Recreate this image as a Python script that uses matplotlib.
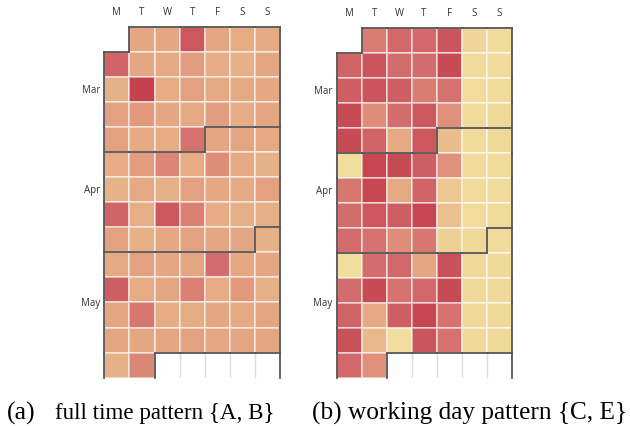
import numpy as np
import matplotlib
matplotlib.use("Agg")
import matplotlib.pyplot as plt
from matplotlib.colors import LinearSegmentedColormap
import datetime as dt

# ---------------- data ----------------
day_labels = ["M", "T", "W", "T", "F", "S", "S"]
month_names = ["Mar", "Apr", "May"]
start_date = dt.date(2016, 3, 1)
end_date = dt.date(2016, 5, 31)

nan = np.nan
# rows = calendar weeks (Mon..Sun), NaN = not in date range
full_time = [
    [nan, 0.47, 0.47, 0.88, 0.47, 0.43, 0.45],
    [0.82, 0.47, 0.45, 0.53, 0.44, 0.40, 0.48],
    [0.40, 1.00, 0.44, 0.50, 0.45, 0.45, 0.46],
    [0.50, 0.55, 0.47, 0.45, 0.53, 0.44, 0.48],
    [0.50, 0.45, 0.44, 0.75, 0.47, 0.48, 0.45],
    [0.43, 0.53, 0.65, 0.44, 0.62, 0.45, 0.40],
    [0.38, 0.45, 0.40, 0.50, 0.46, 0.45, 0.50],
    [0.82, 0.42, 0.88, 0.68, 0.44, 0.42, 0.42],
    [0.50, 0.40, 0.46, 0.50, 0.47, 0.48, 0.40],
    [0.45, 0.50, 0.47, 0.48, 0.78, 0.46, 0.47],
    [0.85, 0.43, 0.48, 0.68, 0.44, 0.55, 0.40],
    [0.47, 0.72, 0.44, 0.44, 0.47, 0.45, 0.48],
    [0.48, 0.47, 0.47, 0.50, 0.46, 0.48, 0.48],
    [0.40, 0.65, nan, nan, nan, nan, nan],
]
working_day = [
    [nan, 0.70, 0.80, 0.80, 0.90, 0.12, 0.05],
    [0.82, 0.90, 0.78, 0.78, 0.95, 0.05, 0.05],
    [0.85, 0.90, 0.85, 0.70, 0.75, 0.03, 0.05],
    [0.95, 0.62, 0.78, 0.88, 0.60, 0.05, 0.08],
    [0.95, 0.82, 0.45, 0.88, 0.32, 0.05, 0.10],
    [0.00, 0.97, 0.95, 0.85, 0.60, 0.05, 0.05],
    [0.72, 0.97, 0.45, 0.82, 0.25, 0.05, 0.05],
    [0.78, 0.88, 0.85, 0.97, 0.30, 0.03, 0.05],
    [0.78, 0.75, 0.62, 0.72, 0.18, 0.10, 0.05],
    [0.00, 0.78, 0.80, 0.48, 0.92, 0.10, 0.10],
    [0.78, 0.95, 0.75, 0.80, 0.95, 0.08, 0.10],
    [0.82, 0.45, 0.85, 0.97, 0.75, 0.08, 0.10],
    [0.92, 0.35, 0.02, 0.90, 0.75, 0.10, 0.10],
    [0.80, 0.60, nan, nan, nan, nan, nan],
]
captions = ["(a)", "full time pattern {A, B}", "(b) working day pattern {C, E}"]

# ---------------- style ----------------
cmap = LinearSegmentedColormap.from_list("cal", [
    (0.00, "#F1DE9E"),
    (0.20, "#EECF96"),
    (0.30, "#EAC08E"),
    (0.45, "#E5AA84"),
    (0.60, "#E0907A"),
    (0.80, "#D2686A"),
    (1.00, "#C4424E"),
])

# calendar layout from dates
first_monday = start_date - dt.timedelta(days=start_date.weekday())
n_rows = ((end_date - first_monday).days // 7) + 1
month_grid = [[None] * 7 for _ in range(n_rows)]
d = start_date
while d <= end_date:
    r = (d - first_monday).days // 7
    month_grid[r][d.weekday()] = d.month
    d += dt.timedelta(days=1)

month_rows = {}
for r in range(n_rows):
    for c in range(7):
        m = month_grid[r][c]
        if m is not None:
            month_rows.setdefault(m, []).append(r)

W, H = 630, 427
fig = plt.figure(figsize=(W / 100, H / 100), dpi=100)

label_font = ["Open Sans", "DejaVu Sans"]
axes_px = [(104.3, 27.7, 175.7, 351.0), (336.7, 29.3, 174.8, 349.2)]


def draw(ax, values):
    vals = np.ma.masked_invalid(np.array(values, dtype=float))
    ax.pcolormesh(np.arange(8), np.arange(n_rows + 1), vals, cmap=cmap,
                  vmin=0, vmax=1, edgecolors=(1, 1, 1, 0.5), linewidth=1.3)
    ax.set_xlim(0, 7)
    ax.set_ylim(n_rows, 0)
    ax.axis("off")
    # light lines for empty trailing cells
    for r in range(n_rows):
        for c in range(7):
            if month_grid[r][c] is None and r == n_rows - 1 and c > 0 and month_grid[r][c - 1] is None:
                ax.plot([c, c], [r, r + 1], color="#dcdcdc", lw=1.0, zorder=2)

    def lab(r, c):
        if r < 0 or c < 0 or c >= 7:
            return "OUT"
        if r >= n_rows:
            return "OPEN"
        return month_grid[r][c]

    segs = []
    for r in range(-1, n_rows):
        for c in range(-1, 7):
            a = lab(r, c)
            # right edge
            if r >= 0:
                b = lab(r, c + 1)
                if a != b and not ({a, b} <= {None, "OUT"}):
                    segs.append(((c + 1, c + 1), (r, r + 1)))
            # bottom edge
            if c >= 0:
                b = lab(r + 1, c)
                if b == "OPEN":
                    continue
                if a != b and not ({a, b} <= {None, "OUT"}):
                    segs.append(((c, c + 1), (r + 1, r + 1)))
    # right border full height
    segs.append(((7, 7), (n_rows - 1, n_rows)))
    for xs, ys in segs:
        ax.plot(xs, ys, color="#555555", lw=1.3, solid_capstyle="projecting",
                zorder=5, clip_on=False)

    for c, t in enumerate(day_labels):
        ax.text(c + 0.5, -0.62, t, ha="center", va="center", fontsize=7,
                color="#333333", family=label_font)
    for m, name in zip(sorted(month_rows), month_names):
        rows = month_rows[m]
        yc = (min(rows) + max(rows)) / 2 + 0.5
        ax.text(-0.17, yc, name, ha="right", va="center", fontsize=7,
                color="#333333", family=label_font)


for (x0, y0, w, h), vals in zip(axes_px, [full_time, working_day]):
    ax = fig.add_axes([x0 / W, 1 - (y0 + h) / H, w / W, h / H])
    draw(ax, vals)

base_y = 1 - 419.5 / H
cap_font = ["Liberation Serif", "DejaVu Serif"]
fig.text(7 / W, base_y, captions[0], fontsize=18.5, family=cap_font, va="baseline", ha="left")
fig.text(55 / W, base_y, captions[1], fontsize=16.6, family=cap_font, va="baseline", ha="left")
fig.text(312 / W, base_y, captions[2], fontsize=18.2, family=cap_font, va="baseline", ha="left")

fig.savefig("out.png", dpi=100)
